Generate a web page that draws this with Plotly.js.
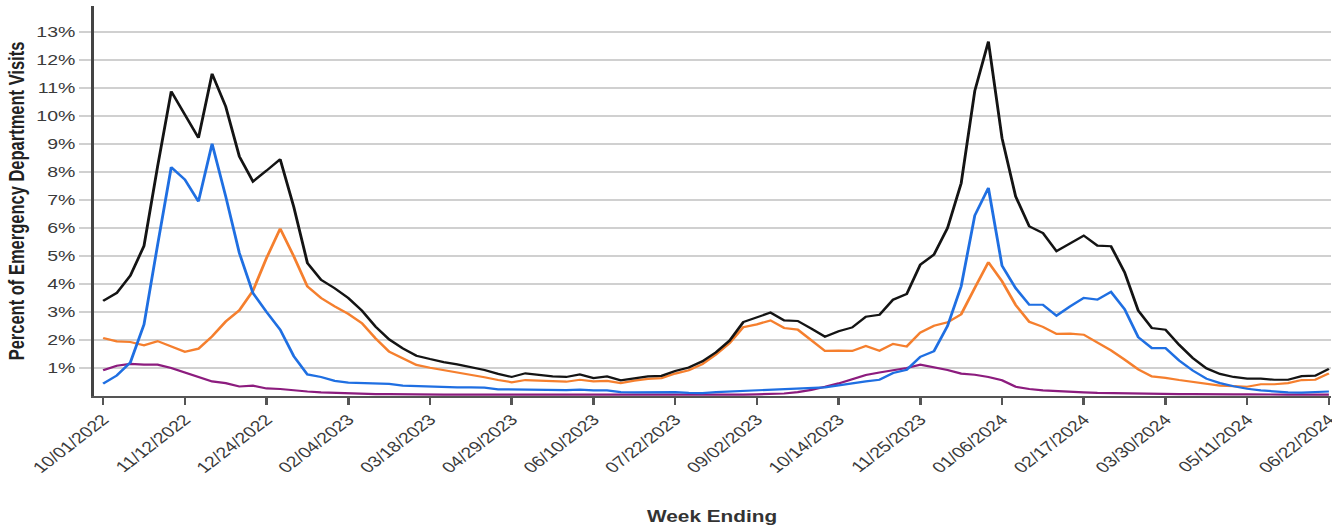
<!DOCTYPE html>
<html>
<head>
<meta charset="utf-8">
<script src="https://cdn.plot.ly/plotly-3.0.1.min.js"></script>
<style>
  html, body { margin: 0; padding: 0; background: #ffffff; overflow: hidden; }
  #wrap { width: 1025px; height: 526px; transform: scaleX(1.2995); transform-origin: 0 0; }
</style>
</head>
<body>
<div id="wrap"><div id="chart"></div></div>
<script>
const weekEnding = [
  '2022-10-01','2022-10-08','2022-10-15','2022-10-22','2022-10-29','2022-11-05','2022-11-12','2022-11-19','2022-11-26','2022-12-03',
  '2022-12-10','2022-12-17','2022-12-24','2022-12-31','2023-01-07','2023-01-14','2023-01-21','2023-01-28','2023-02-04','2023-02-11',
  '2023-02-18','2023-02-25','2023-03-04','2023-03-11','2023-03-18','2023-03-25','2023-04-01','2023-04-08','2023-04-15','2023-04-22',
  '2023-04-29','2023-05-06','2023-05-13','2023-05-20','2023-05-27','2023-06-03','2023-06-10','2023-06-17','2023-06-24','2023-07-01',
  '2023-07-08','2023-07-15','2023-07-22','2023-07-29','2023-08-05','2023-08-12','2023-08-19','2023-08-26','2023-09-02','2023-09-09',
  '2023-09-16','2023-09-23','2023-09-30','2023-10-07','2023-10-14','2023-10-21','2023-10-28','2023-11-04','2023-11-11','2023-11-18',
  '2023-11-25','2023-12-02','2023-12-09','2023-12-16','2023-12-23','2023-12-30','2024-01-06','2024-01-13','2024-01-20','2024-01-27',
  '2024-02-03','2024-02-10','2024-02-17','2024-02-24','2024-03-02','2024-03-09','2024-03-16','2024-03-23','2024-03-30','2024-04-06',
  '2024-04-13','2024-04-20','2024-04-27','2024-05-04','2024-05-11','2024-05-18','2024-05-25','2024-06-01','2024-06-08','2024-06-15',
  '2024-06-22'
];

const combined = [
  3.40,3.68,4.30,5.36,8.20,10.88,10.05,9.22,11.51,10.34,
  8.56,7.66,8.05,8.46,6.75,4.75,4.15,3.85,3.50,3.05,
  2.48,2.02,1.70,1.44,1.32,1.21,1.13,1.02,0.93,0.79,
  0.68,0.81,0.76,0.70,0.68,0.77,0.64,0.70,0.56,0.64,
  0.70,0.72,0.89,1.02,1.24,1.56,1.98,2.64,2.82,2.98,
  2.70,2.68,2.41,2.12,2.31,2.45,2.83,2.90,3.44,3.64,
  4.69,5.05,6.00,7.60,10.90,12.66,9.21,7.13,6.06,5.82,
  5.17,5.46,5.73,5.37,5.35,4.42,3.05,2.43,2.37,1.83,
  1.36,0.99,0.79,0.68,0.62,0.62,0.58,0.58,0.71,0.73,
  0.97
];

const influenza = [
  0.44,0.73,1.20,2.55,5.40,8.17,7.73,6.95,9.01,7.13,
  5.11,3.68,3.00,2.37,1.42,0.77,0.68,0.54,0.48,0.46,
  0.44,0.43,0.37,0.35,0.35,0.32,0.31,0.31,0.30,0.24,
  0.23,0.23,0.22,0.22,0.21,0.23,0.20,0.20,0.14,0.13,
  0.13,0.14,0.14,0.11,0.10,0.14,0.16,0.19,0.21,0.22,
  0.24,0.25,0.27,0.31,0.38,0.46,0.52,0.58,0.82,0.94,
  1.40,1.60,2.50,3.92,6.45,7.43,4.65,3.85,3.26,3.26,
  2.87,3.20,3.50,3.44,3.72,3.10,2.10,1.71,1.71,1.27,
  0.91,0.62,0.46,0.35,0.26,0.20,0.16,0.13,0.12,0.14,
  0.16
];

const covid = [
  2.07,1.95,1.93,1.81,1.96,1.77,1.58,1.69,2.13,2.66,
  3.06,3.76,4.93,5.98,4.99,3.91,3.50,3.20,2.93,2.60,
  2.06,1.58,1.35,1.11,1.01,0.93,0.85,0.77,0.67,0.57,
  0.49,0.57,0.55,0.52,0.51,0.58,0.52,0.54,0.46,0.55,
  0.61,0.64,0.80,0.92,1.14,1.48,1.89,2.46,2.56,2.70,
  2.43,2.37,1.99,1.61,1.62,1.61,1.79,1.62,1.86,1.77,
  2.27,2.51,2.63,2.92,3.86,4.78,4.10,3.25,2.65,2.47,
  2.22,2.23,2.19,1.92,1.63,1.30,0.95,0.70,0.65,0.57,
  0.50,0.43,0.37,0.35,0.33,0.42,0.42,0.46,0.57,0.58,
  0.81
];

const rsv = [
  0.92,1.08,1.15,1.12,1.12,1.00,0.84,0.68,0.52,0.46,
  0.34,0.37,0.27,0.25,0.20,0.16,0.13,0.11,0.09,0.08,
  0.07,0.07,0.06,0.06,0.06,0.05,0.05,0.05,0.05,0.05,
  0.04,0.04,0.04,0.04,0.03,0.04,0.03,0.03,0.03,0.03,
  0.03,0.04,0.04,0.04,0.04,0.05,0.05,0.05,0.06,0.07,
  0.09,0.14,0.22,0.33,0.45,0.60,0.75,0.84,0.91,1.00,
  1.12,1.03,0.93,0.80,0.76,0.68,0.56,0.33,0.25,0.20,
  0.17,0.14,0.13,0.11,0.10,0.09,0.08,0.08,0.07,0.07,
  0.07,0.06,0.06,0.06,0.06,0.05,0.05,0.05,0.05,0.05,
  0.05
];

const xTickDates = ['2022-10-01','2022-11-12','2022-12-24','2023-02-04','2023-03-18','2023-04-29','2023-06-10','2023-07-22',
  '2023-09-02','2023-10-14','2023-11-25','2024-01-06','2024-02-17','2024-03-30','2024-05-11','2024-06-22'];
const xTickLabels = ['10/01/2022','11/12/2022','12/24/2022','02/04/2023','03/18/2023','04/29/2023','06/10/2023','07/22/2023',
  '09/02/2023','10/14/2023','11/25/2023','01/06/2024','02/17/2024','03/30/2024','05/11/2024','06/22/2024'];
const yTickVals = [1,2,3,4,5,6,7,8,9,10,11,12,13];
const yTickLabels = ['1%','2%','3%','4%','5%','6%','7%','8%','9%','10%','11%','12%','13%'];

const seriesNames = ['RSV','COVID-19','Influenza','Combined'];
const seriesColors = ['#8c1c7e','#f57f2e','#1f6fe2','#141414'];
const seriesValues = [rsv, covid, influenza, combined];

const traces = seriesValues.map((vals, k) => ({
  type: 'scatter',
  mode: 'lines',
  name: seriesNames[k],
  x: weekEnding,
  y: vals,
  line: { color: seriesColors[k], width: 2.2 },
  hovertemplate: '%{x|%m/%d/%Y}: %{y:.1f}%<extra>' + seriesNames[k] + '</extra>'
}));

const FONT = 'Liberation Sans, Arial, sans-serif';

const layout = {
  width: 1025,
  height: 526,
  margin: { l: 72, r: 1, t: 6, b: 130 },
  paper_bgcolor: '#ffffff',
  plot_bgcolor: '#ffffff',
  showlegend: false,
  font: { family: FONT, color: '#333333' },
  xaxis: {
    type: 'date',
    range: ['2022-09-26 02:00', '2024-06-22 22:00'],
    tickmode: 'array',
    tickvals: xTickDates,
    ticktext: xTickLabels,
    tickangle: -45,
    ticklabeloverflow: 'allow',
    ticks: 'outside',
    ticklen: 7,
    tickwidth: 1.5,
    tickcolor: '#555555',
    showline: true,
    linecolor: '#555555',
    linewidth: 2,
    showgrid: false,
    zeroline: false,
    tickfont: { family: FONT, size: 15, color: '#3a3a3a' },
    title: { text: 'Week Ending', font: { family: FONT, size: 16, color: '#333333', weight: 'bold' }, standoff: 36 }
  },
  yaxis: {
    range: [0, 13.93],
    tickmode: 'array',
    tickvals: yTickVals,
    ticktext: yTickLabels,
    ticks: 'outside',
    ticklen: 9,
    tickwidth: 2,
    tickcolor: '#d0d0d0',
    showgrid: true,
    gridcolor: '#d0d0d0',
    gridwidth: 2,
    showline: true,
    linecolor: '#444444',
    linewidth: 2,
    zeroline: false,
    tickfont: { family: FONT, size: 15, color: '#3a3a3a' },
    title: { text: 'Percent of Emergency Department Visits', font: { family: FONT, size: 16.5, color: '#222222', weight: 'bold' }, standoff: 5 }
  }
};

Plotly.newPlot('chart', traces, layout, { displayModeBar: false, responsive: false });
</script>
</body>
</html>
